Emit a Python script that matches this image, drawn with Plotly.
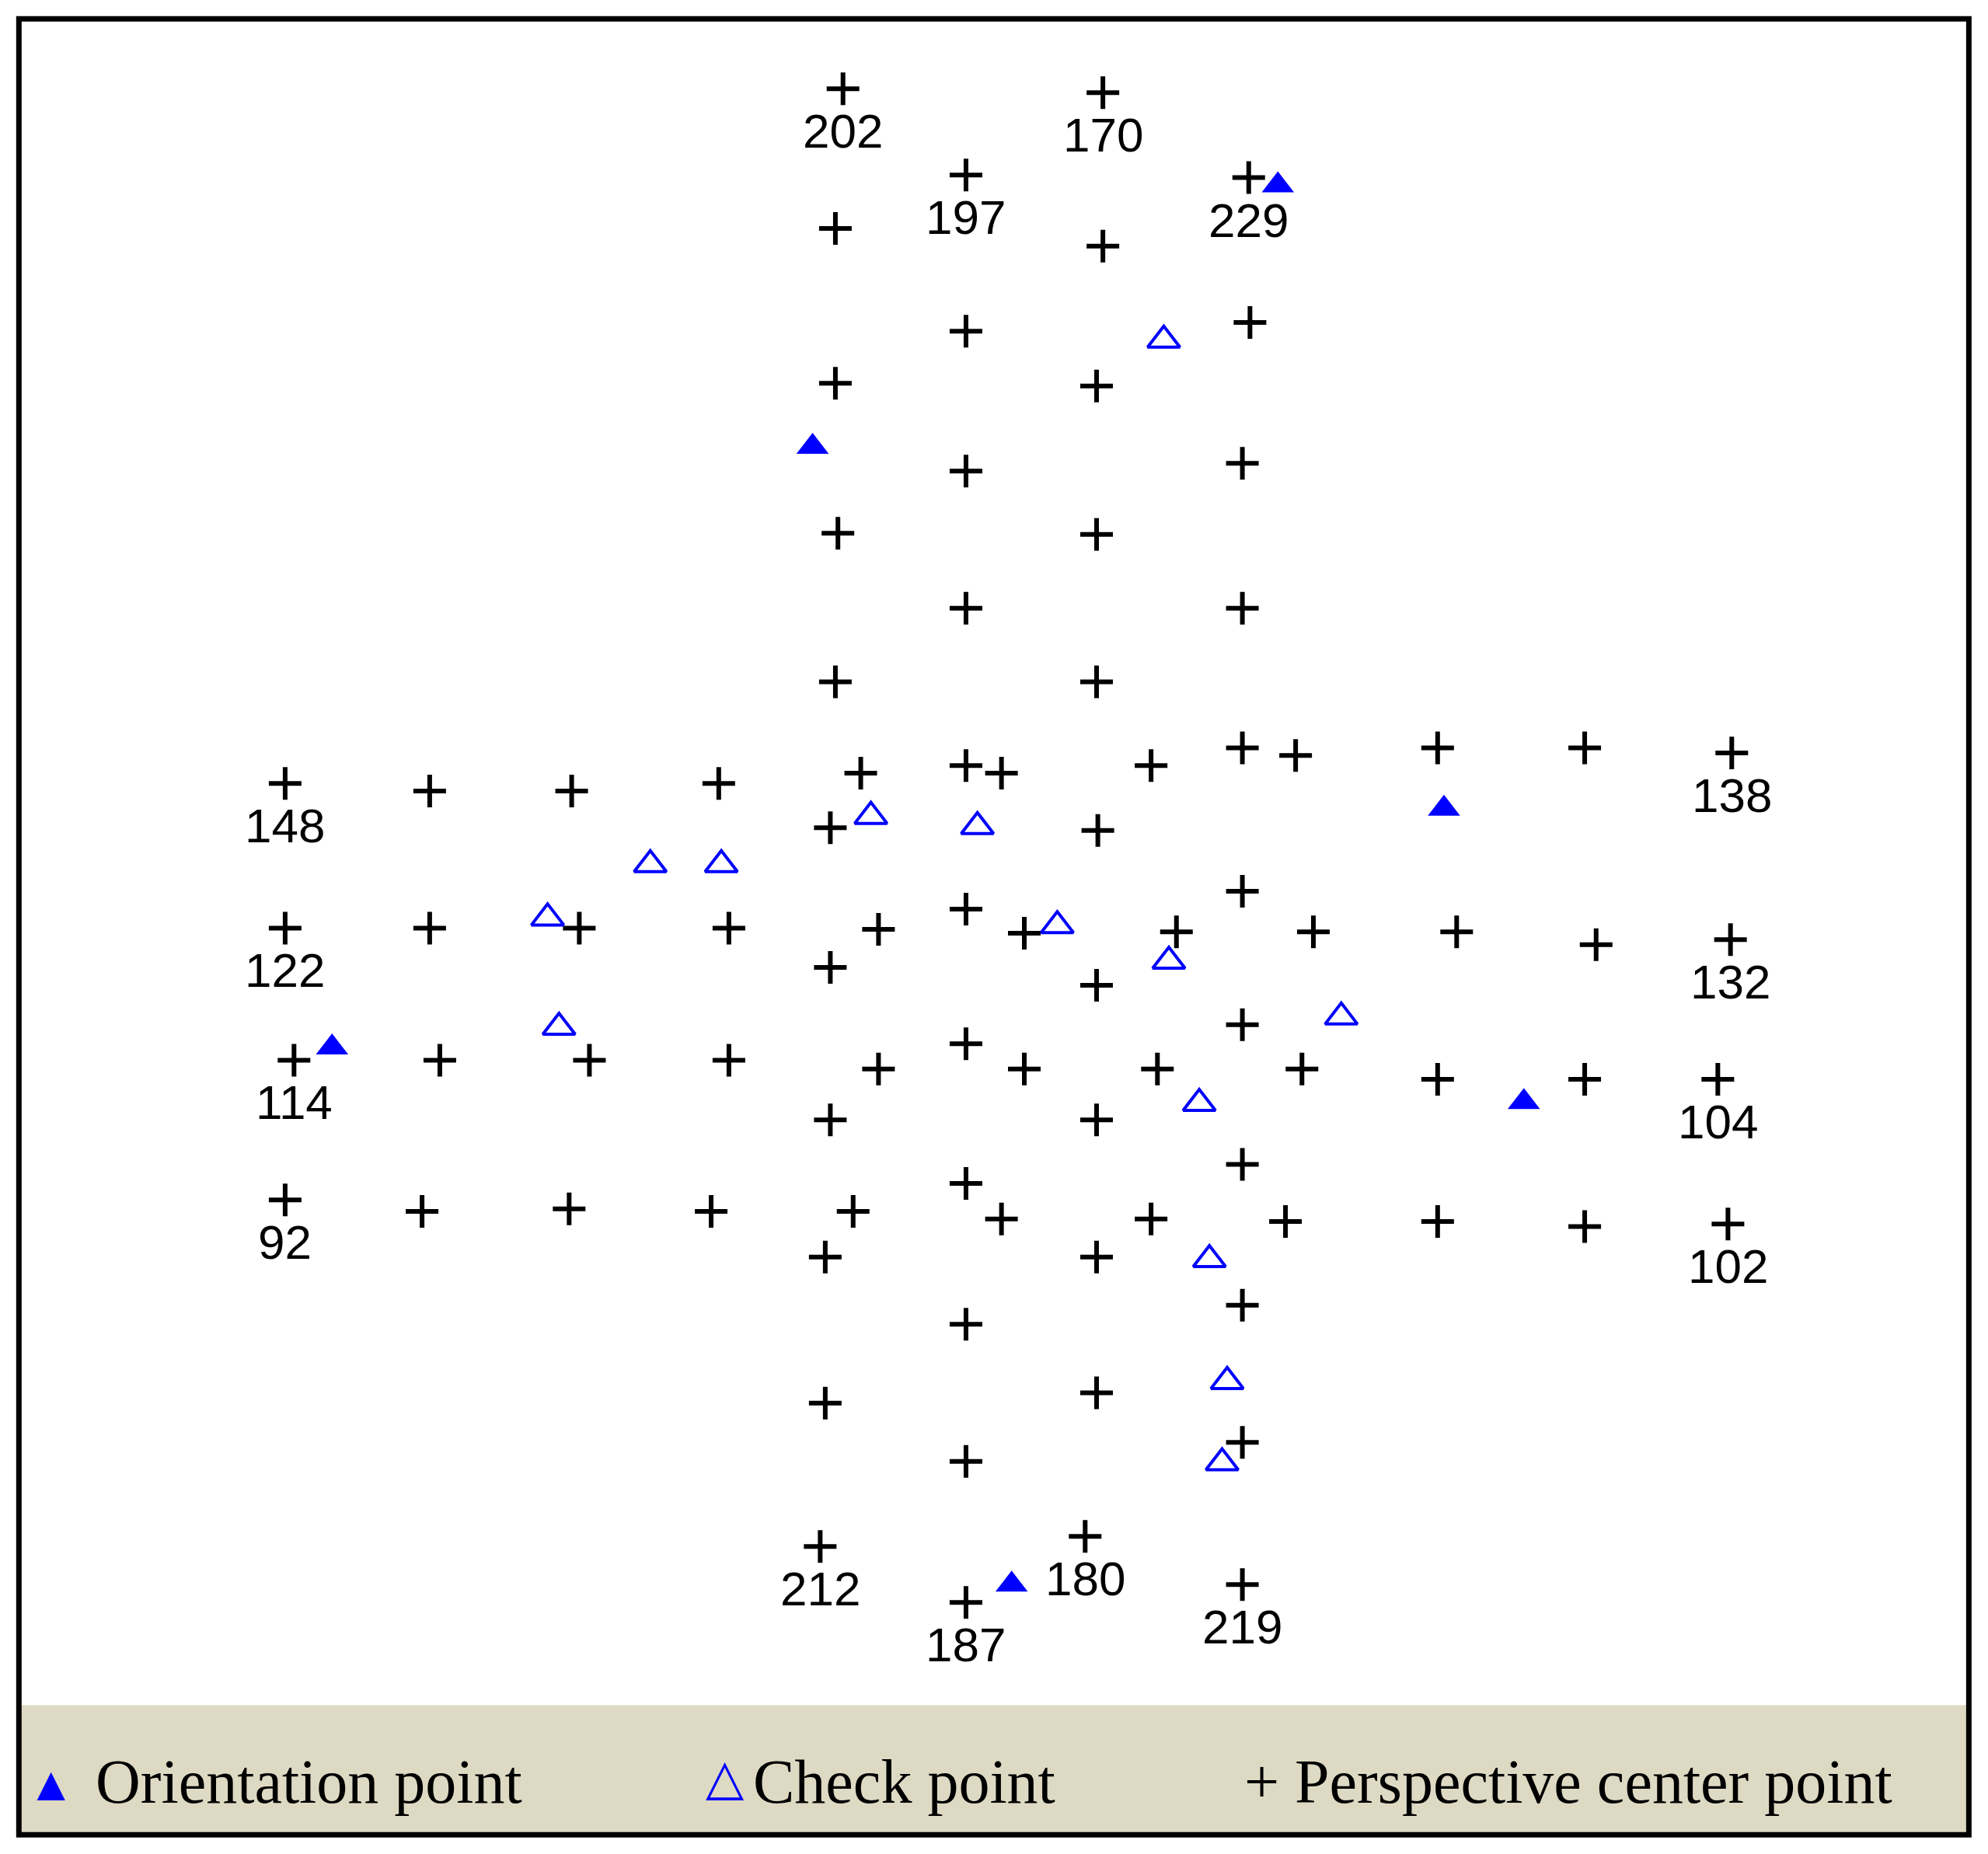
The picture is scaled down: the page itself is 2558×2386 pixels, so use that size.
import plotly.graph_objects as go

# point positions (picture units, y grows downward)
plus_x = [665, 659, 659, 661, 659, 679, 655, 693, 655, 693, 655, 673, 651, 651, 647,
          762, 762, 762, 762, 762, 790, 762, 808, 762, 808, 762, 790, 762, 762, 762,
          870, 870, 865, 865, 865, 908, 866, 928, 865, 913, 865, 908, 865, 865, 856,
          985, 986, 980, 980, 980, 1022, 980, 1036, 980, 1027, 980, 1014, 980, 980, 980,
          1134, 1250, 1366, 1149, 1259, 1365, 1134, 1250, 1355, 1134, 1250, 1363,
          225, 339, 451, 567, 225, 339, 457, 575, 232, 347, 465, 575, 225, 333, 449, 561]
plus_y = [70, 180, 302, 420, 537, 609, 652, 732, 762, 842, 882, 954, 990, 1105, 1218,
          138, 261, 371, 479, 603, 609, 716, 735, 822, 842, 932, 960, 1043, 1151, 1262,
          73, 194, 304, 421, 537, 603, 654, 734, 776, 842, 882, 960, 990, 1097, 1210,
          140, 254, 365, 479, 589, 595, 702, 734, 807, 842, 917, 962, 1028, 1136, 1248,
          589, 589, 593, 734, 744, 740, 850, 850, 850, 962, 966, 964,
          617, 623, 623, 617, 731, 731, 731, 731, 835, 835, 835, 835, 945, 954, 952, 954]

label_x = [665, 762, 870, 985, 225, 225, 232, 225, 1366, 1365, 1355, 1363, 647, 762, 856, 980]
label_y = [70, 138, 73, 140, 617, 731, 835, 945, 593, 740, 850, 964, 1218, 1262, 1210, 1248]
label_text = ["202", "197", "170", "229", "148", "122", "114", "92",
              "138", "132", "104", "102", "212", "187", "180", "219"]

orient_x = [1008, 641, 1139, 262, 1202, 798]
orient_y = [146, 352, 637, 825, 868, 1248]

check_x = [918, 687, 771, 513, 569, 432, 834, 922, 441, 1058, 946, 954, 968, 964]
check_y = [268, 643, 651, 681, 681, 723, 729, 757, 809, 801, 869, 992, 1088, 1152]

fig = go.Figure()
fig.add_trace(go.Scatter(x=plus_x, y=plus_y, mode="markers",
                         marker=dict(symbol="cross-thin", size=30, line=dict(color="black", width=6))))
fig.add_trace(go.Scatter(x=orient_x, y=orient_y, mode="markers",
                         marker=dict(symbol="triangle-up", size=36, color="#0000ff")))
fig.add_trace(go.Scatter(x=check_x, y=check_y, mode="markers",
                         marker=dict(symbol="triangle-up-open", size=36, color="#0000ff",
                                     line=dict(width=4))))

for lx, ly, lt in zip(label_x, label_y, label_text):
    fig.add_annotation(x=lx, y=ly, text=lt, showarrow=False, yanchor="top", yshift=-18,
                       font=dict(family="Liberation Sans", size=62, color="black"))

# legend band and frame
fig.add_shape(type="rect", x0=17, x1=1551, y0=1343, y1=1443, fillcolor="#ddd9c3",
              line=dict(width=0), layer="below")
fig.add_shape(type="rect", x0=15, x1=1553, y0=15, y1=1445, line=dict(color="black", width=7))

legend_font = dict(family="Liberation Serif", size=80, color="black")
fig.add_annotation(x=40, y=1403, text="▲", showarrow=False, font=dict(size=62, color="#0000ff"))
fig.add_annotation(x=572, y=1398, text="△", showarrow=False, font=dict(size=64, color="#0000ff"))
fig.add_annotation(x=74, y=1403, text="Orientation point", xanchor="left", showarrow=False, font=legend_font)
fig.add_annotation(x=593, y=1403, text="Check point", xanchor="left", showarrow=False, font=legend_font)
fig.add_annotation(x=980, y=1403, text="+ Perspective center point", xanchor="left", showarrow=False, font=legend_font)

# small offset compensates for the page margin around the plot
fig.update_xaxes(range=[5, 1573], visible=False)
fig.update_yaxes(range=[1465, 5], visible=False)
fig.update_layout(width=2558, height=2386, margin=dict(l=0, r=0, t=0, b=0),
                  showlegend=False, plot_bgcolor="white", paper_bgcolor="white")
fig.write_html("out.html")
